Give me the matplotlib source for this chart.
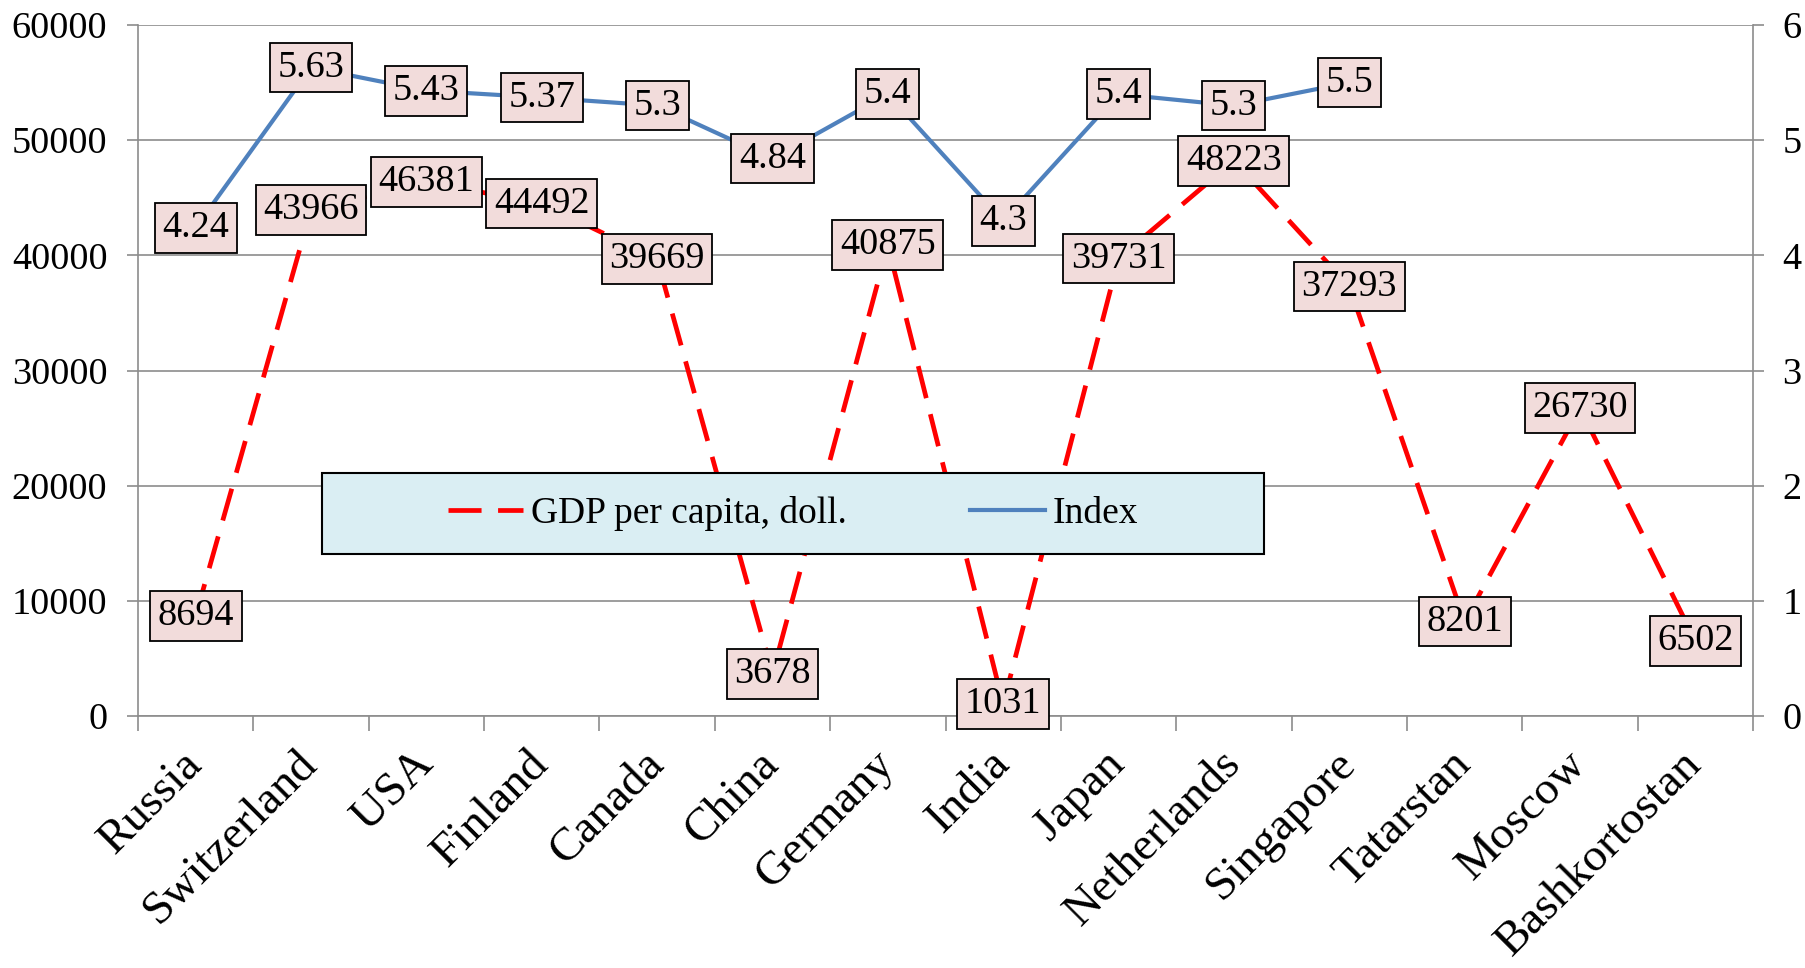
import numpy as np
import matplotlib.pyplot as plt
from matplotlib.patches import Rectangle

plt.rcParams['font.family'] = ['Liberation Serif', 'DejaVu Serif']

# Data
regions = ['Russia', 'Switzerland', 'USA', 'Finland', 'Canada', 'China', 'Germany',
           'India', 'Japan', 'Netherlands', 'Singapore', 'Tatarstan', 'Moscow', 'Bashkortostan']
gdp = [8694, 43966, 46381, 44492, 39669, 3678, 40875, 1031, 39731, 48223, 37293, 8201, 26730, 6502]
index = [4.24, 5.63, 5.43, 5.37, 5.3, 4.84, 5.4, 4.3, 5.4, 5.3, 5.5, np.nan, np.nan, np.nan]

grid_col = '#8c8c8c'
fs = 27.5

fig = plt.figure(figsize=(18.06, 9.68), dpi=100)
ax = fig.add_axes([0.0764, 0.2603, 0.8943, 0.7139])
ax2 = ax.twinx()

x = np.arange(len(regions))
l1, = ax.plot(x, gdp, color='red', lw=3.4, dashes=(7, 3.5), label='GDP per capita, doll.')
l2, = ax2.plot(x, index, color='#4F81BD', lw=3, label='Index')

ax.set_xlim(-0.5, len(regions) - 0.5)
ax.set_ylim(0, 60000)
ax2.set_ylim(0, 6)
ax.set_yticks(range(0, 60001, 10000))
ax2.set_yticks(range(0, 7))
ax.yaxis.grid(True, color=grid_col, lw=1.2)
ax.set_axisbelow(True)

for sp in ['top', 'right']:
    ax.spines[sp].set_visible(False)
for sp in ['top', 'left', 'bottom']:
    ax2.spines[sp].set_visible(False)
ax.spines['left'].set_color(grid_col)
ax.spines['bottom'].set_color(grid_col)
ax2.spines['right'].set_color(grid_col)
for sp in [ax.spines['left'], ax.spines['bottom'], ax2.spines['right']]:
    sp.set_linewidth(1.2)

ax.tick_params(axis='y', length=8, width=1.2, color=grid_col, pad=14, labelsize=fs)
ax2.tick_params(axis='y', length=8, width=1.2, color=grid_col, pad=13, labelsize=fs)

# category boundaries get the tick marks, centres get the labels
ax.set_xticks(np.arange(-0.5, len(regions), 1))
ax.set_xticklabels([])
ax.tick_params(axis='x', which='major', length=11, width=1.2, color=grid_col)
ax.set_xticks(x, regions, minor=True)
ax.tick_params(axis='x', which='minor', length=0, pad=30, labelsize=34)
plt.setp(ax.get_xticklabels(minor=True), rotation=45, ha='right', va='center',
         rotation_mode='anchor')

box = dict(boxstyle='square,pad=0.2', facecolor='#F2DCDB', edgecolor='black', lw=1.3)
for i, v in enumerate(gdp):
    ax2.text(i, v, str(v), transform=ax.transData, ha='center', va='center',
             fontsize=fs, bbox=box, zorder=10)
for i, v in enumerate(index):
    if not np.isnan(v):
        ax2.text(i, v, f'{v:g}', ha='center', va='center', fontsize=fs, bbox=box, zorder=10)

ax2.add_patch(Rectangle((0.114, 0.234), 0.583, 0.118, transform=ax2.transAxes,
                        facecolor='#DAEEF3', edgecolor='black', lw=1.5, zorder=4))
ax2.legend([l1, l2], [l1.get_label(), l2.get_label()], loc='center',
           bbox_to_anchor=(0.4056, 0.293), ncol=2, frameon=False, fontsize=27,
           handlelength=2.0, handletextpad=0.2, columnspacing=3.3)

fig.savefig('out.png', dpi=100)
